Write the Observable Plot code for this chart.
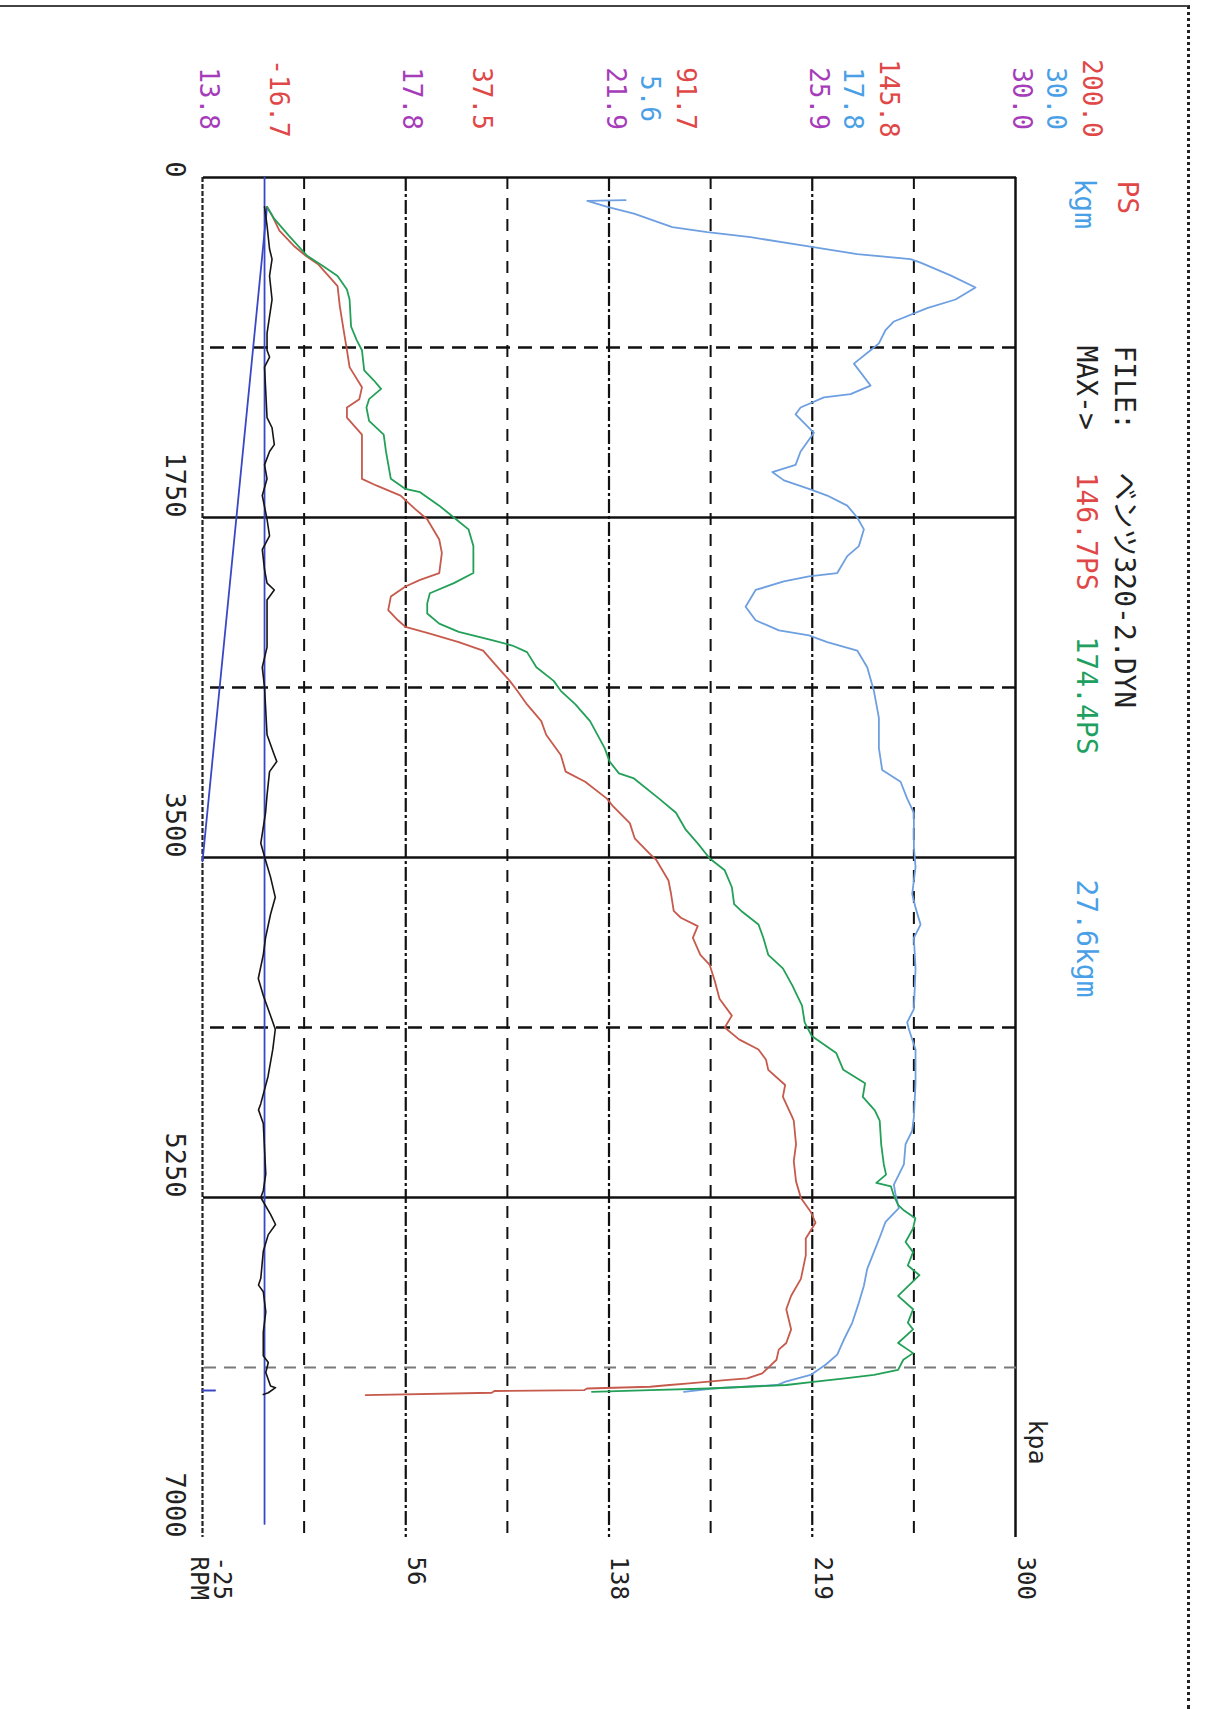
<!DOCTYPE html>
<html><head><meta charset="utf-8">
<script src="https://cdn.jsdelivr.net/npm/d3@7"></script>
<script src="https://cdn.jsdelivr.net/npm/@observablehq/plot@0.6"></script>
<style>
html,body{margin:0;padding:0;background:#fff;width:1207px;height:1709px;overflow:hidden;}
#rot{position:absolute;left:0;top:0;width:1709px;height:1207px;transform-origin:0 0;transform:translate(1207px,0) rotate(90deg);background:#fff;}
#edge{position:absolute;left:5px;top:17px;right:0;bottom:0;border-top:3px dotted #222;border-left:2px solid #444;pointer-events:none;}
</style></head><body>
<div id="rot"></div>
<script>
// ---- axes / ticks ----
const rpmTicks = [0, 1750, 3500, 5250, 7000];
const rpmGridSolid = [1750, 3500, 5250];
const rpmGridDash = [875, 2625, 4375];
const rpmGridFaint = [6125];
const kpaLevels = [-25, 56.25, 137.5, 218.75, 300];
const kpaTickLabels = ["-25", "56", "138", "219", "300"];
const kpaGridMid = [15.625, 96.875, 178.125, 259.375];
// channel scale labels at each labelled kpa level
const psScaleLabels = ["-16.7", "37.5", "91.7", "145.8", "200.0"];
const kgmScaleLabels = ["", "", "5.6", "17.8", "30.0"];
const afrScaleLabels = ["13.8", "17.8", "21.9", "25.9", "30.0"];
const psRange = [-16.7, 200];
const kgmRange = [-18.8, 30];
const fileName = "ベンツ320-2.DYN";

// ---- series (rpm, value) ----
const redRpm = [151,194,273,351,403,446,559,663,819,889,976,1080,1141,1184,1236,1323,1551,1585,1637,1707,1759,1863,1932,2036,2071,2105,2157,2227,2279,2313,2348,2391,2435,2521,2591,2642,2712,2798,2868,2972,3058,3110,3197,3236,3323,3401,3479,3514,3618,3688,3775,3810,3853,3914,4001,4053,4140,4227,4314,4375,4436,4488,4541,4593,4671,4732,4836,4855,4976,5063,5167,5253,5323,5380,5461,5548,5669,5756,5825,5929,5999,6033,6085,6120,6155,6181,6189,6198,6207,6215,6224,6233,6241,6246,6255,6267];
const redPS = [0.5,1.8,3.8,7.6,10.8,14.1,19.3,19.9,21.2,21.8,22.5,25.8,25.1,21.8,21.8,25.8,25.8,29.6,36.1,40.0,43.2,46.4,47.1,46.4,41.3,37.4,33.5,32.8,35.4,37.4,43.9,51.6,58.1,62.0,65.2,67.2,69.8,73.6,74.9,78.8,80.1,85.3,91.1,92.7,97.2,98.5,102.4,104.3,107.5,108.2,108.9,110.8,115.3,114.0,116.0,118.5,119.9,121.1,124.4,122.5,126.3,131.5,133.5,134.1,138.6,138.0,140.5,140.9,141.5,140.9,141.5,142.8,145.4,146.7,144.1,144.1,142.8,140.2,138.9,140.2,138.9,136.9,136.3,134.4,132.5,128.5,123.4,118.2,113.0,107.8,102.6,85.8,85.1,61.1,60.4,26.8];

const greenRpm = [151,212,299,403,455,507,576,628,767,837,889,993,1045,1088,1141,1184,1253,1323,1410,1551,1603,1620,1689,1750,1811,1897,2036,2088,2140,2192,2244,2296,2339,2383,2409,2443,2521,2591,2642,2712,2798,2937,3006,3067,3093,3197,3270,3357,3427,3505,3566,3653,3740,3775,3845,3914,4001,4071,4158,4262,4349,4419,4506,4593,4662,4732,4802,4854,4976,5080,5132,5175,5193,5236,5288,5314,5357,5409,5479,5531,5600,5650,5756,5825,5895,5929,5999,6051,6085,6137,6163,6181,6198,6215,6233,6241,6250];
const greenPS = [0.5,2.4,6.3,11.2,15.4,19.3,21.8,22.5,22.9,24.4,25.8,26.4,29.0,30.9,27.7,27.0,27.7,31.6,32.2,33.5,37.4,41.3,46.4,50.3,54.2,55.5,55.5,50.3,43.9,43.2,43.2,46.4,51.6,60.7,65.9,69.8,72.3,76.9,78.8,82.7,86.6,90.5,91.8,94.3,98.3,105.0,109.5,112.1,115.3,118.5,122.5,124.4,125.0,126.9,131.5,132.8,134.1,138.0,140.5,143.1,143.8,145.7,152.2,154.1,159.9,159.3,162.5,163.8,164.2,164.9,165.5,162.9,166.8,167.5,168.7,170.1,173.3,172.7,170.7,172.7,171.3,174.4,168.7,172.7,171.3,172.7,168.7,172.7,170.1,168.7,162.3,154.5,146.7,138.9,118.2,102.6,87.1];

const blueRpm = [116,120,151,186,255,281,307,351,394,420,438,504,566,628,672,741,785,854,889,958,1071,1115,1132,1184,1219,1314,1410,1479,1516,1559,1603,1637,1689,1750,1811,1897,1949,2036,2053,2079,2123,2209,2279,2331,2357,2391,2435,2521,2642,2781,2937,3050,3110,3197,3270,3444,3549,3688,3758,3845,3914,4071,4280,4349,4384,4488,4662,4836,4906,4976,5080,5184,5236,5305,5375,5444,5531,5617,5704,5791,5895,5981,6059,6111,6163,6198,6215,6233,6250];
const blueKgm = [6.6,4.3,5.5,7.1,9.4,11.5,14.1,17.3,20.5,23.7,24.3,26.1,27.6,26.4,24.7,22.7,22.2,21.8,21.3,20.3,21.3,20.1,18.5,17.1,16.8,17.9,17.1,16.8,15.4,16.1,17.6,18.7,19.9,20.5,20.9,20.6,19.9,19.3,17.6,16.1,14.4,13.8,14.4,15.8,17.6,18.7,20.5,21.1,21.5,21.8,21.8,22.0,23.1,23.5,23.9,23.9,24.0,23.8,24.0,24.3,23.9,24.0,23.9,23.5,23.6,24.0,24.0,23.9,23.8,23.4,23.3,22.7,22.8,23.0,22.2,21.9,21.5,21.1,20.9,20.6,20.2,19.7,19.3,18.6,17.7,16.2,15.7,11.8,10.1];

const blackRpm = [151,247,368,420,507,628,802,889,924,976,1236,1288,1375,1410,1479,1551,1637,1759,1845,1915,2019,2088,2123,2175,2417,2521,2625,2868,2972,3006,3058,3179,3270,3427,3514,3601,3705,3792,3914,4001,4123,4210,4314,4384,4488,4627,4767,4799,4869,5129,5215,5250,5337,5389,5441,5527,5666,5701,5735,5839,5943,6065,6099,6151,6220,6229,6255,6264];
const blackKpa = [-0.2,0.8,1.8,2.8,1.8,2.8,0.8,0.8,1.8,-0.2,0.8,2.8,3.7,1.8,-0.2,0.8,-1.1,0.8,1.8,-1.1,-0.2,0.8,3.7,0.8,0.8,-1.1,-0.2,0.8,3.7,4.7,1.8,0.8,0.2,-1.7,0.2,2.2,4.1,2.2,0.2,-0.7,-2.7,-0.7,2.2,4.1,3.1,1.2,-1.7,-2.6,-0.7,0.3,-0.7,-1.7,2.2,4.2,1.3,-0.7,-1.7,-2.6,-0.7,0.3,-0.7,-0.7,1.3,0.3,2.2,4.2,1.3,-0.7];

const navyDiagRpm = [151, 3520];
const navyDiagKpa = [0.8, -25];
const navyVertRpm = [0, 6930];
const navyVertKpa = [-0.2, -0.2];
const navyTickRpm = [6243, 6243];
const navyTickKpa = [-25, -20];

// ---- helpers ----
const toKpa = (v, [lo, hi]) => -25 + (v - lo) / (hi - lo) * 325;
const pts = (rs, vs, conv) => rs.map((r, i) => ({rpm: r, y: conv ? conv(vs[i]) : vs[i]}));

const C = {red: "#c65a4c", green: "#23a058", blue: "#6e9fe0", navy: "#3a48c6", black: "#151515",
  redT: "#e04848", blueT: "#4aa0e6", purpleT: "#a63cba", greenT: "#20a060"};
const font = "'DejaVu Sans Mono','Liberation Mono','Noto Sans CJK JP',monospace";

const chart = Plot.plot({
  width: 1709, height: 1207,
  marginLeft: 177, marginRight: 172, marginTop: 191, marginBottom: 203,
  x: {domain: [0, 7000], axis: null},
  y: {domain: [-25, 300], axis: null},
  style: {fontFamily: font, background: "transparent", overflow: "visible"},
  marks: [
    Plot.ruleY(kpaGridMid, {y: d => d, stroke: "#111", strokeWidth: 2, strokeDasharray: "12,9"}),
    Plot.ruleY(kpaLevels.slice(1, 4), {y: d => d, stroke: "#111", strokeWidth: 2.2, strokeDasharray: "14,3,3,3"}),
    Plot.ruleY(kpaLevels.slice(0, 1), {y: d => d, stroke: "#222", strokeWidth: 2.2, strokeDasharray: "5,2"}),
    Plot.ruleY(kpaLevels.slice(4), {y: d => d, stroke: "#111", strokeWidth: 2.5}),
    Plot.ruleX(rpmTicks.slice(0, 1), {x: d => d, stroke: "#111", strokeWidth: 2.5}),
    Plot.ruleX(rpmGridSolid, {x: d => d, stroke: "#111", strokeWidth: 2.5}),
    Plot.ruleX(rpmGridDash, {x: d => d, stroke: "#111", strokeWidth: 2.5, strokeDasharray: "14,8"}),
    Plot.ruleX(rpmGridFaint, {x: d => d, stroke: "#7a7a7a", strokeWidth: 1.8, strokeDasharray: "12,8"}),

    Plot.line(pts(navyVertRpm, navyVertKpa), {x: "rpm", y: "y", stroke: C.navy, strokeWidth: 1.8}),
    Plot.line(pts(navyDiagRpm, navyDiagKpa), {x: "rpm", y: "y", stroke: C.navy, strokeWidth: 1.8}),
    Plot.line(pts(navyTickRpm, navyTickKpa), {x: "rpm", y: "y", stroke: C.navy, strokeWidth: 2}),
    Plot.line(pts(blackRpm, blackKpa), {x: "rpm", y: "y", stroke: C.black, strokeWidth: 1.6}),
    Plot.line(pts(blueRpm, blueKgm, v => toKpa(v, kgmRange)), {x: "rpm", y: "y", stroke: C.blue, strokeWidth: 1.8}),
    Plot.line(pts(redRpm, redPS, v => toKpa(v, psRange)), {x: "rpm", y: "y", stroke: C.red, strokeWidth: 1.8}),
    Plot.line(pts(greenRpm, greenPS, v => toKpa(v, psRange)), {x: "rpm", y: "y", stroke: C.green, strokeWidth: 1.8}),

    // RPM tick labels
    Plot.text(rpmTicks, {x: d => d, text: d => String(d), frameAnchor: "bottom", dy: 28, textAnchor: "end", lineAnchor: "middle", fontSize: 27, fill: "#222"}),
    // kpa tick labels
    Plot.text(kpaLevels.slice(1), {y: d => d, text: (d, i) => kpaTickLabels[i + 1], frameAnchor: "right", dx: 19, dy: -10, textAnchor: "start", lineAnchor: "middle", fontSize: 24, fill: "#222"}),
    Plot.text(kpaLevels.slice(0, 1), {y: d => d, text: () => kpaTickLabels[0], frameAnchor: "right", dx: 19, dy: -19, textAnchor: "start", lineAnchor: "middle", fontSize: 24, fill: "#222"}),
    Plot.text(["RPM"], {frameAnchor: "bottom-right", dx: 19, dy: 4, textAnchor: "start", lineAnchor: "middle", fontSize: 24, fill: "#222"}),
    Plot.text(["kpa"], {frameAnchor: "top-right", dx: -118, dy: -21, textAnchor: "start", lineAnchor: "middle", fontSize: 25, fill: "#222"}),

    // channel scale labels
    Plot.text(kpaLevels, {y: d => d, text: (d, i) => psScaleLabels[i], frameAnchor: "left", dx: -79, dy: -76, textAnchor: "middle", lineAnchor: "middle", fontSize: 26, fill: C.redT}),
    Plot.text(kpaLevels, {y: d => d, text: (d, i) => kgmScaleLabels[i], frameAnchor: "left", dx: -79, dy: -40, textAnchor: "middle", lineAnchor: "middle", fontSize: 26, fill: C.blueT}),
    Plot.text(kpaLevels, {y: d => d, text: (d, i) => afrScaleLabels[i], frameAnchor: "left", dx: -79, dy: -6, textAnchor: "middle", lineAnchor: "middle", fontSize: 26, fill: C.purpleT}),

    // header
    Plot.text(["PS"], {frameAnchor: "top-left", dx: 3, dy: -111, textAnchor: "start", lineAnchor: "middle", fontSize: 28, fill: C.redT}),
    Plot.text(["kgm"], {frameAnchor: "top-left", dx: 1, dy: -68, textAnchor: "start", lineAnchor: "middle", fontSize: 28, fill: C.blueT}),
    Plot.text(["FILE:"], {frameAnchor: "top-left", dx: 168, dy: -108, textAnchor: "start", lineAnchor: "middle", fontSize: 28, fill: "#222"}),
    Plot.text([fileName], {frameAnchor: "top-left", dx: 295, dy: -108, textAnchor: "start", lineAnchor: "middle", fontSize: 28, fill: "#222"}),
    Plot.text(["MAX->"], {frameAnchor: "top-left", dx: 168, dy: -70, textAnchor: "start", lineAnchor: "middle", fontSize: 28, fill: "#222"}),
    Plot.text([d3.max(redPS)], {frameAnchor: "top-left", dx: 295, dy: -70, text: d => d.toFixed(1) + "PS", textAnchor: "start", lineAnchor: "middle", fontSize: 28, fill: C.redT}),
    Plot.text([d3.max(greenPS)], {frameAnchor: "top-left", dx: 459, dy: -70, text: d => d.toFixed(1) + "PS", textAnchor: "start", lineAnchor: "middle", fontSize: 28, fill: C.greenT}),
    Plot.text([d3.max(blueKgm)], {frameAnchor: "top-left", dx: 702, dy: -70, text: d => d.toFixed(1) + "kgm", textAnchor: "start", lineAnchor: "middle", fontSize: 28, fill: C.blueT})
  ]
});
const rot = document.getElementById("rot");
rot.appendChild(chart);
const edge = document.createElement("div");
edge.id = "edge";
rot.appendChild(edge);
</script></body></html>
